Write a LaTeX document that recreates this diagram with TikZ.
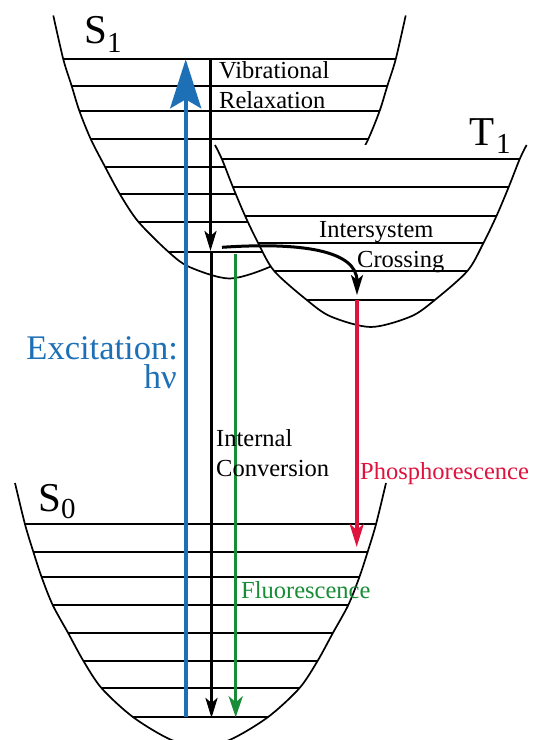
\documentclass[tikz,border=0pt]{standalone}
\usepackage{fontspec}
\setmainfont{Liberation Serif}
\usetikzlibrary{arrows.meta}
\definecolor{excblue}{RGB}{30,112,182}
\definecolor{flgreen}{RGB}{25,140,55}
\definecolor{phred}{RGB}{222,20,62}
\tikzset{
  level/.style={line width=1.9pt,black},
  well/.style={line width=1.7pt,black},
  lbl/.style={inner sep=0pt,anchor=base west,font=\fontsize{24.5}{29}\selectfont},
  big/.style={inner sep=0pt,anchor=base west,font=\fontsize{41}{41}\selectfont},
  sub/.style={inner sep=0pt,anchor=base west,font=\fontsize{29}{29}\selectfont},
  blkarrow/.style={line width=3.3pt,black,-{Stealth[length=20pt,width=12pt,inset=5pt]}},
  bluearrow/.style={line width=3.9pt,excblue,-{Stealth[length=49pt,width=31pt,inset=9pt]}},
  grnarrow/.style={line width=3.5pt,flgreen,-{Stealth[length=21pt,width=14pt,inset=6pt]}},
  redarrow/.style={line width=4pt,phred,-{Stealth[length=23pt,width=14pt,inset=6pt]}},
}
\begin{document}
\begin{tikzpicture}[x=1pt,y=-1pt]
\useasboundingbox (0,0) rectangle (534,740);
\clip (0,0) rectangle (534,740);
\fill[white] (0,0) rectangle (534,740);

% ---------- S1 well ----------
\path[save path=\SonePath] plot[smooth] coordinates {(53.3,15.5) (63.3,59.3) (71.7,86) (79.3,110.7) (90.7,139) (105,166.7) (120,194.3) (138.3,221.7) (168.3,251.7) (189.5,267) (229.5,278.5) (269.5,267) (290.7,251.7) (320.7,221.7) (339,194.3) (354,166.7) (368.3,139) (379.7,110.7) (387.3,86) (395.7,59.3) (405.7,15.5)};
\begin{scope}
  \clip[use path=\SonePath] -- cycle;
  \foreach \yy in {59.3,86,110.7,139,166.7,194.3,221.7,251.7}
    \draw[level] (0,\yy) -- (534,\yy);
\end{scope}
\draw[well, use path=\SonePath];

% ---------- T1 well ----------
\path[save path=\TonePath] plot[smooth] coordinates {(215,145) (222,159.3) (233,187.3) (245,215.7) (258.3,243.3) (274.2,271) (306.8,300) (330.8,316.5) (370.8,327) (410.8,316.5) (434.8,300) (467.4,271) (483.3,243.3) (496.6,215.7) (508.6,187.3) (519.6,159.3) (526.6,145)};
\fill[white, use path=\TonePath] -- cycle;
\begin{scope}
  \clip[use path=\TonePath] -- cycle;
  \foreach \yy in {159.3,187.3,215.7,243.3,271,300}
    \draw[level] (0,\yy) -- (534,\yy);
\end{scope}
\draw[well, use path=\TonePath];

% ---------- S0 well ----------
\path[save path=\SzeroPath] plot[smooth] coordinates {(15,483) (25,524.3) (33.3,551.7) (41.7,577.3) (52.7,605) (68.3,633.3) (83.3,660.7) (101.7,688.3) (133.3,717.3) (171.5,740) (200.5,745.1) (229.5,740) (267.7,717.3) (299.3,688.3) (317.7,660.7) (332.7,633.3) (348.3,605) (359.3,577.3) (367.7,551.7) (376,524.3) (386,483)};
\begin{scope}
  \clip[use path=\SzeroPath] -- cycle;
  \foreach \yy in {524.3,551.7,577.3,605,633.3,660.7,688.3,717.3}
    \draw[level] (0,\yy) -- (534,\yy);
\end{scope}
\draw[well, use path=\SzeroPath];

% ---------- state labels ----------
\node[big] (s1) at (84,43) {S};
\node[sub] (s1sub) at (107,52) {1};
\node[big] (t1) at (469,145) {T};
\node[sub] (t1sub) at (496,153) {1};
\node[big] (s0) at (38,511) {S};
\node[sub] (s0sub) at (61,518) {0};

% ---------- anchor points ----------
\coordinate (exBot) at (185.7,717.3);
\coordinate (exTop) at (185.7,59.3);
\coordinate (vrTop) at (210.5,59.3);
\coordinate (vrBot) at (210.5,251);
\coordinate (icTop) at (211.5,252);
\coordinate (icBot) at (211.5,718);
\coordinate (iscStart) at (222,247.3);
\coordinate (iscEnd) at (357,295);
\coordinate (flTop) at (235.7,254);
\coordinate (flBot) at (235.7,717.3);
\coordinate (phTop) at (356.7,300);
\coordinate (phBot) at (356.7,547);

% ---------- transitions ----------
\draw[bluearrow] (exBot) -- (exTop);
\draw[blkarrow] (vrTop) -- (vrBot);
\draw[blkarrow] (icTop) -- (icBot);
\draw[grnarrow] (flTop) -- (flBot);
\draw[redarrow] (phTop) -- (phBot);
\draw[blkarrow, line width=3pt] (iscStart) .. controls (300,242) and (357,250) .. (iscEnd);

% ---------- labels ----------
\node[lbl] (vib) at (219,78) {Vibrational};
\node[lbl] (rel) at (219,108) {Relaxation};
\node[lbl] (inter) at (319,237) {Intersystem};
\node[lbl] (cross) at (357,267) {Crossing};
\node[lbl] (int) at (216,446) {Internal};
\node[lbl] (conv) at (216,476) {Conversion};
\node[lbl,text=phred] (phos) at (360,479) {Phosphorescence};
\node[lbl,text=flgreen] (fluo) at (241,598) {Fluorescence};
\node[inner sep=0pt,anchor=base east,text=excblue,font=\fontsize{34.5}{34.5}\selectfont] (exc) at (178,359) {Excitation:};
\node[inner sep=0pt,anchor=base east,text=excblue,font=\fontsize{34.5}{34.5}\selectfont] (hnu) at (177,388.5) {hν};
\end{tikzpicture}
\end{document}
